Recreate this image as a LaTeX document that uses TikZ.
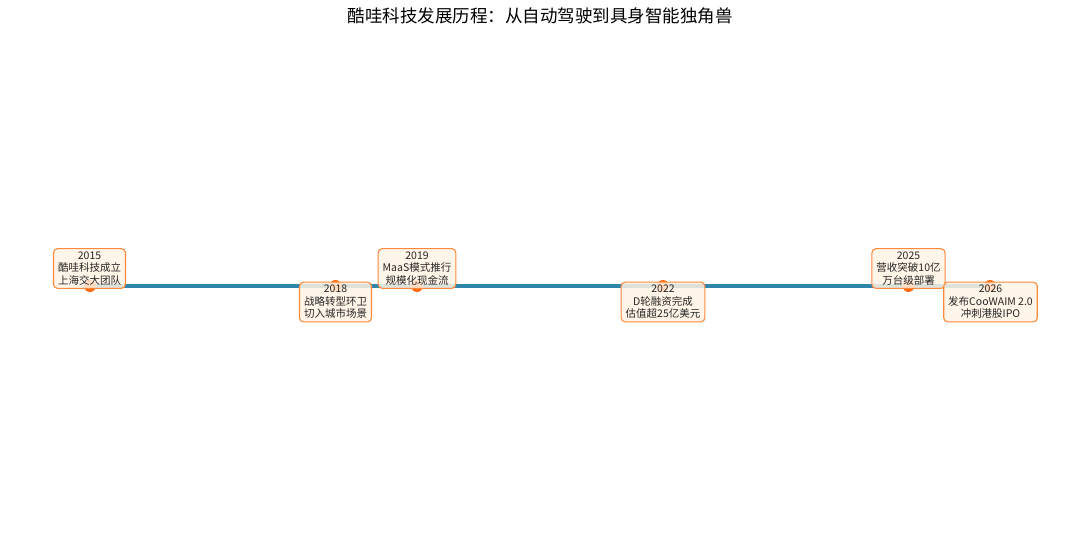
\documentclass[tikz,border=0pt]{standalone}
\usepackage{fontspec}
\setmainfont{Noto Sans CJK SC}
\definecolor{linec}{HTML}{2E86AB}
\definecolor{dotc}{HTML}{FF6A10}
\definecolor{boxd}{HTML}{FF8A3D}
\definecolor{boxf}{HTML}{FFF3E4}
\tikzset{
  event/.style={draw=boxd, line width=1.1pt, fill=boxf, fill opacity=0.85, text opacity=1,
    rounded corners=4pt, align=center, inner xsep=4.5pt, inner ysep=3pt,
    font=\fontsize{10.5}{12.6}\selectfont, text=black!85},
  dot/.style={circle, fill=dotc, minimum size=12pt, inner sep=0pt},
  axisline/.style={draw=linec, line width=3.2pt}
}
\begin{document}
\begin{tikzpicture}[x=1pt,y=-1pt]
\useasboundingbox (0,0) rectangle (1080,536);
\node[font=\fontsize{17.5}{20}\selectfont] (title) at (540,16) {酷哇科技发展历程：从自动驾驶到具身智能独角兽};
\coordinate (p2015) at (90,286);
\coordinate (p2018) at (335.5,286);
\coordinate (p2019) at (417,286);
\coordinate (p2022) at (663,286);
\coordinate (p2025) at (908.5,286);
\coordinate (p2026) at (990,286);
\draw[axisline] (p2015) -- (p2026);
\foreach \y in {2015,2018,2019,2022,2025,2026}{\node[dot] (d\y) at (p\y) {};}
\node[event] (e2015) at (89.5,268.5) {2015\\酷哇科技成立\\上海交大团队};
\node[event] (e2018) at (335.5,302) {2018\\战略转型环卫\\切入城市场景};
\node[event] (e2019) at (417,268.5) {2019\\MaaS模式推行\\规模化现金流};
\node[event] (e2022) at (663,302) {2022\\D轮融资完成\\估值超25亿美元};
\node[event] (e2025) at (908.5,268.5) {2025\\营收突破10亿\\万台级部署};
\node[event] (e2026) at (990.5,302) {2026\\发布CooWAIM 2.0\\冲刺港股IPO};
\end{tikzpicture}
\end{document}
